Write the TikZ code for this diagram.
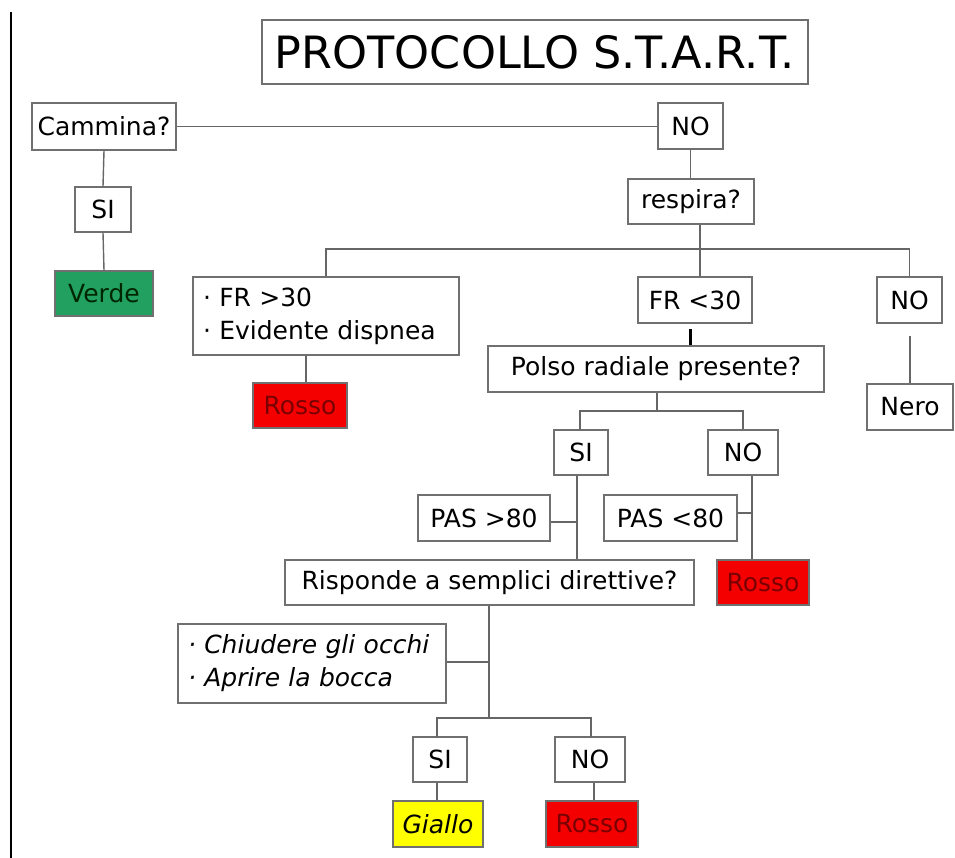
\documentclass[tikz,border=0pt]{standalone}
\usepackage{fontspec}
\setmainfont{DejaVu Sans}
\definecolor{linegray}{HTML}{666666}
\definecolor{boxgray}{HTML}{707070}
\definecolor{verdefill}{HTML}{22A060}
\definecolor{rossofill}{HTML}{F50000}
\definecolor{rossotext}{HTML}{7A0000}
\definecolor{giallofill}{HTML}{FFFF00}
\begin{document}
\begin{tikzpicture}[x=1pt,y=-1pt,
  box/.style={draw=boxgray, line width=1.4pt, fill=white, inner sep=0pt,
    font=\fontsize{25}{29}\selectfont, text=black},
  listbox/.style={box, align=left, inner xsep=10pt,
    font=\fontsize{25}{33}\selectfont},
  verdebox/.style={box, fill=verdefill, text=black!85!green},
  rossobox/.style={box, fill=rossofill, text=rossotext},
  giallobox/.style={box, fill=giallofill},
  link/.style={draw=linegray, line width=1.4pt},
  sz/.style 2 args={minimum width=#1pt, minimum height=#2pt}]
\useasboundingbox (0,0) rectangle (955,858);

% left rule
\draw[line width=2pt] (11,12) -- (11,858);

% title
\node[box, sz={546}{64}, font=\fontsize{44.5}{48}\selectfont] (title) at (535,52) {PROTOCOLLO S.T.A.R.T.};

% first question
\node[box, sz={144}{47}] (cam) at (104,126.5) {Cammina?};
\node[box, sz={65}{46}] (no1) at (690.5,126) {NO};
\node[box, sz={56}{45}] (si1) at (103,209.5) {SI};
\node[verdebox, sz={98}{45}] (verde) at (104,293.5) {Verde};

% breathing
\node[box, sz={126}{45}] (resp) at (691,201.5) {respira?};
\node[listbox, text width=246pt, minimum height=78pt] (fr30) at (326,316)
  {· FR >30\\ · Evidente dispnea};
\node[box, sz={114}{46}] (frlt) at (695,300) {FR <30};
\node[box, sz={65}{46}] (no2) at (909.5,300) {NO};
\node[rossobox, sz={94}{45}] (rosso1) at (300,405.5) {Rosso};
\node[box, sz={86}{46}] (nero) at (910,407) {Nero};

% radial pulse
\node[box, sz={336}{46}] (polso) at (656,369) {Polso radiale presente?};
\node[box, sz={54}{45}] (si2) at (581,452.5) {SI};
\node[box, sz={70}{45}] (no3) at (743,452.5) {NO};
\node[box, sz={132}{46}] (pasgt) at (484,518) {PAS >80};
\node[box, sz={133}{46}] (paslt) at (670.5,518) {PAS <80};
\node[rossobox, sz={92}{45}] (rosso2) at (763,582.5) {Rosso};

% simple commands
\node[box, sz={409}{45}] (risp) at (489.5,582.5) {Risponde a semplici direttive?};
\node[listbox, text width=248pt, minimum height=79pt, font=\fontsize{25}{33}\selectfont\itshape] (chiud) at (312,663.5)
  {· Chiudere gli occhi\\ · Aprire la bocca};
\node[box, sz={54}{45}] (si3) at (440,759.5) {SI};
\node[box, sz={70}{45}] (no4) at (590,759.5) {NO};
\node[giallobox, sz={90}{46}, font=\fontsize{25}{29}\selectfont\itshape] (giallo) at (438,824) {Giallo};
\node[rossobox, sz={92}{46}] (rosso3) at (592,824) {Rosso};

% junction points
\coordinate (jr) at (700,249);
\coordinate (jp) at (657,411);
\coordinate (js) at (489,718);

% connectors
\draw[link] (cam.east) -- (cam.east -| no1.west);
\draw[link] (cam.south) -- (si1.north);
\draw[link] (si1.south) -- (verde.north);
\draw[link] (no1.south) -- (no1.south |- resp.north);

\draw[link] (resp.south -| jr) -- (jr |- frlt.north);
\draw[link] (fr30.north) |- (jr);
\draw[link] (no2.north) |- (jr);
\draw[link] ([xshift=6pt]rosso1.north |- fr30.south) -- ([xshift=6pt]rosso1.north);
\draw[line width=3pt] ([yshift=16pt]polso.north -| 690,0) -- (polso.north -| 690,0);
\draw[link] ([yshift=47pt]nero.north) -- (nero.north);

\draw[link] (polso.south -| jp) -- (jp);
\draw[link] (jp) -| (580,430);
\draw[link] (jp) -| (no3.north);
\coordinate (sidrop) at (577,0);
\coordinate (nodrop) at (752,0);
\draw[link] (si2.south -| sidrop) -- (risp.north -| sidrop);
\draw[link] ([yshift=-4pt]pasgt.east) -- ([yshift=-4pt]pasgt.east -| sidrop);
\draw[link] (no3.south -| nodrop) -- (rosso2.north -| nodrop);
\draw[link] ([yshift=5pt]paslt.east) -- ([yshift=5pt]paslt.east -| nodrop);

\draw[link] (risp.south -| js) -- (js);
\draw[link] ([yshift=1.5pt]chiud.east) -- ([yshift=1.5pt]chiud.east -| js);
\draw[link] (437,737) |- (js) -| (591,737);
\draw[link] (si3.south -| 437,0) -- (giallo.north -| 437,0);
\draw[link] (no4.south -| 594,0) -- (rosso3.north -| 594,0);
\end{tikzpicture}
\end{document}
